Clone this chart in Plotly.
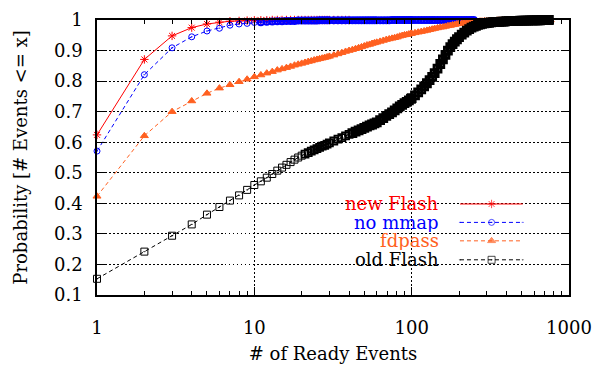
import plotly.graph_objects as go

# ---------------- data ----------------
ready_events = [1, 2, 3, 4, 5, 6, 7, 8, 9, 10, 11, 12, 13, 14, 15, 16, 17, 18, 19, 20,
                21, 22, 23, 24, 25, 26, 27, 28, 29, 30,
                32, 34, 36, 38, 40, 42, 44, 46, 48, 50, 52, 54, 56, 58, 60,
                63, 66, 69, 72, 75, 78, 81, 84, 87, 90, 93, 96, 99,
                100, 105, 110, 115, 120, 125, 130, 135, 140,
                146, 152, 158, 164, 170, 176, 182, 188, 194, 200,
                208, 216, 224, 232, 240, 248, 256, 264, 272, 280,
                290, 300, 310, 320, 330, 340, 350, 360, 370, 380, 390, 400,
                415, 430, 445, 460, 475, 490, 505, 520, 535, 550, 565, 580,
                595, 610, 625, 640, 655, 670, 685, 700, 715, 730, 745, 760]

new_flash = [0.624, 0.871, 0.948, 0.975, 0.987, 0.993, 0.996, 0.997, 0.998, 0.999,
             0.999, 0.999, 1.0, 1.0, 1.0, 1.0, 1.0, 1.0, 1.0, 1.0,
             1.0, 1.0, 1.0, 1.0, 1.0, 1.0, 1.0, 1.0, 1.0, 1.0,
             1.0, 1.0, 1.0, 1.0, 1.0]

no_mmap = [0.571, 0.821, 0.909, 0.945, 0.964, 0.973, 0.983, 0.987, 0.989, 0.992,
           0.993, 0.994, 0.995, 0.996, 0.996, 0.997, 0.997, 0.997, 0.998, 0.998,
           0.998, 0.998, 0.998, 0.998, 0.998, 0.999, 0.999, 0.999, 0.999, 0.999,
           0.999, 0.999, 0.999, 0.999, 0.999, 0.999, 0.999, 0.999, 0.999, 0.999,
           0.999, 0.999, 0.999, 0.999, 0.999,
           0.999, 0.999, 0.999, 0.999, 1.0, 1.0, 1.0, 1.0, 1.0, 1.0, 1.0, 1.0, 1.0,
           1.0, 1.0, 1.0, 1.0, 1.0, 1.0, 1.0, 1.0, 1.0,
           1.0, 1.0, 1.0, 1.0, 1.0, 1.0, 1.0, 1.0, 1.0, 1.0,
           1.0, 1.0, 1.0, 1.0, 1.0, 1.0]

fdpass = [0.423, 0.621, 0.700, 0.735, 0.760, 0.777, 0.788, 0.798, 0.806, 0.814,
          0.820, 0.826, 0.831, 0.836, 0.840, 0.844, 0.848, 0.852, 0.855, 0.858,
          0.861, 0.864, 0.866, 0.869, 0.871, 0.873, 0.875, 0.877, 0.879, 0.881,
          0.885, 0.889, 0.893, 0.897, 0.900, 0.903, 0.906, 0.909, 0.912, 0.915,
          0.918, 0.920, 0.923, 0.925, 0.927,
          0.930, 0.933, 0.936, 0.938, 0.940, 0.942, 0.944, 0.947, 0.949, 0.951, 0.952, 0.954, 0.956,
          0.956, 0.958, 0.960, 0.962, 0.964, 0.966, 0.968, 0.970, 0.972,
          0.974, 0.976, 0.977, 0.979, 0.981, 0.982, 0.984, 0.985, 0.987, 0.988,
          0.989, 0.990, 0.991, 0.992, 0.993, 0.994, 0.995, 0.995, 0.996, 0.996,
          0.997, 0.997, 0.998, 0.998, 0.998, 0.998, 0.999, 0.999, 0.999, 0.999, 0.999, 0.999,
          0.999, 0.999, 0.999, 1.0, 1.0, 1.0, 1.0, 1.0, 1.0, 1.0, 1.0, 1.0,
          1.0, 1.0, 1.0, 1.0, 1.0, 1.0, 1.0, 1.0, 1.0, 1.0, 1.0, 1.0]

old_flash = [0.153, 0.242, 0.294, 0.331, 0.363, 0.388, 0.409, 0.426, 0.444, 0.460,
             0.472, 0.484, 0.496, 0.507, 0.517, 0.526, 0.535, 0.543, 0.550, 0.556,
             0.561, 0.566, 0.571, 0.575, 0.579, 0.583, 0.587, 0.590, 0.594, 0.598,
             0.604, 0.610, 0.615, 0.621, 0.626, 0.630, 0.635, 0.639, 0.643, 0.647,
             0.651, 0.655, 0.658, 0.662, 0.665,
             0.672, 0.679, 0.686, 0.692, 0.698, 0.704, 0.711, 0.717, 0.722, 0.728, 0.732, 0.737, 0.742,
             0.744, 0.753, 0.763, 0.773, 0.783, 0.793, 0.803, 0.814, 0.826,
             0.841, 0.856, 0.871, 0.886, 0.900, 0.911, 0.921, 0.929, 0.937, 0.944,
             0.952, 0.959, 0.965, 0.970, 0.975, 0.978, 0.981, 0.984, 0.986, 0.987,
             0.989, 0.990, 0.991, 0.992, 0.993, 0.993, 0.994, 0.994, 0.995, 0.995, 0.995, 0.996,
             0.996, 0.997, 0.997, 0.997, 0.997, 0.998, 0.998, 0.998, 0.998, 0.998, 0.999, 0.999,
             0.999, 0.999, 0.999, 0.999, 0.999, 1.0, 1.0, 1.0, 1.0, 1.0, 1.0]

series_names = ["new Flash", "no mmap", "fdpass", "old Flash"]
x_tick_vals = [1, 10, 100, 1000]
x_tick_text = ["1", "10", "100", "1000"]
y_tick_vals = [0.1, 0.2, 0.3, 0.4, 0.5, 0.6, 0.7, 0.8, 0.9, 1.0]
y_tick_text = ["0.1", "0.2", "0.3", "0.4", "0.5", "0.6", "0.7", "0.8", "0.9", "1"]
x_minor_vals = [2, 3, 4, 5, 6, 7, 8, 9, 20, 30, 40, 50, 60, 70, 80, 90,
                200, 300, 400, 500, 600, 700, 800, 900]

# ---------------- styles ----------------
FONT = "'DejaVu Serif', 'Liberation Serif', serif"
FS = 18
colors = ["#ff0000", "#0000ff", "#ff6020", "#000000"]
symbols = ["asterisk-open", "circle-open-dot", "triangle-up", "square-open-dot"]
msizes = [7, 6, 7, 7]
dashes = ["solid", "4px,3px", "4px,3px", "4px,3px"]
# marker outline widths: (x limit, width) steps; gnuplot's one-point-per-integer
# output merges into a solid band where points crowd together
outline_steps = [
    [(1e9, 1)],
    [(10, 1), (1e9, 2)],
    [(1e9, 1)],
    [(20, 1), (40, 1.8), (1e9, 2.8)],
]
values = [new_flash, no_mmap, fdpass, old_flash]


def outline_widths(xs, steps):
    out = []
    for xv in xs:
        for lim, w in steps:
            if xv <= lim:
                out.append(w)
                break
    return out


fig = go.Figure()
for name, vals, c, sym, ms, dsh, steps in zip(series_names, values, colors, symbols, msizes, dashes, outline_steps):
    xs = ready_events[:len(vals)]
    fig.add_trace(go.Scatter(
        x=xs, y=vals, name=name, mode="lines+markers",
        line=dict(color=c, width=1, dash=dsh),
        marker=dict(symbol=sym, size=ms, color=c, line=dict(color=c, width=outline_widths(xs, steps))),
        cliponaxis=False, showlegend=False))

# ---------------- manual legend (gnuplot style: text right, sample left) ----------------
leg_rows = [0.331, 0.264, 0.197, 0.128]
leg_x = [0.769, 0.836, 0.902]
for name, c, sym, ms, dsh, ry in zip(series_names, colors, symbols, msizes, dashes, leg_rows):
    fig.add_trace(go.Scatter(
        x=leg_x, y=[ry] * 3, mode="lines+markers", xaxis="x2", yaxis="y2",
        line=dict(color=c, width=1, dash=dsh),
        marker=dict(symbol=sym, size=[0, ms, 0], color=c, line=dict(color=c, width=1)),
        showlegend=False, hoverinfo="skip"))
    fig.add_annotation(x=0.727, y=ry, xref="paper", yref="paper", text=name,
                       showarrow=False, xanchor="right", yanchor="middle",
                       height=19, valign="middle", borderpad=0,
                       font=dict(family=FONT, size=FS, color=c))

fig.add_shape(type="rect", xref="paper", yref="paper", x0=0.447, x1=0.931, y0=0.035, y1=0.39,
              fillcolor="white", line=dict(width=0), layer="between")

axis_common = dict(
    showline=True, linecolor="black", linewidth=1.5, mirror="ticks",
    ticks="inside", ticklen=8, tickcolor="black", tickwidth=1,
    showgrid=True, gridcolor="black", gridwidth=1, griddash="1.5px,2.5px",
    zeroline=False, tickfont=dict(family=FONT, size=FS, color="black"),
)

fig.update_layout(
    width=601, height=370,
    margin=dict(l=97, r=23, t=9, b=63),
    paper_bgcolor="white", plot_bgcolor="white",
    font=dict(family=FONT, size=FS, color="black"),
    xaxis=dict(type="log", range=[0, 3], tickvals=x_tick_vals, ticktext=x_tick_text,
               ticklabelstandoff=16,
               minor=dict(tickvals=x_minor_vals, ticks="inside", ticklen=4,
                          tickcolor="black", showgrid=False),
               title=dict(text="# of Ready Events", font=dict(family=FONT, size=FS), standoff=10),
               **axis_common),
    yaxis=dict(range=[0.1, 1.0], tickvals=y_tick_vals, ticktext=y_tick_text,
               ticklabelstandoff=9,
               title=dict(text="Probability [# Events <= x]", font=dict(family=FONT, size=FS), standoff=22),
               **axis_common),
    xaxis2=dict(overlaying="x", range=[0, 1], visible=False, fixedrange=True),
    yaxis2=dict(overlaying="y", range=[0, 1], visible=False, fixedrange=True),
)

fig.write_html("out.html")
